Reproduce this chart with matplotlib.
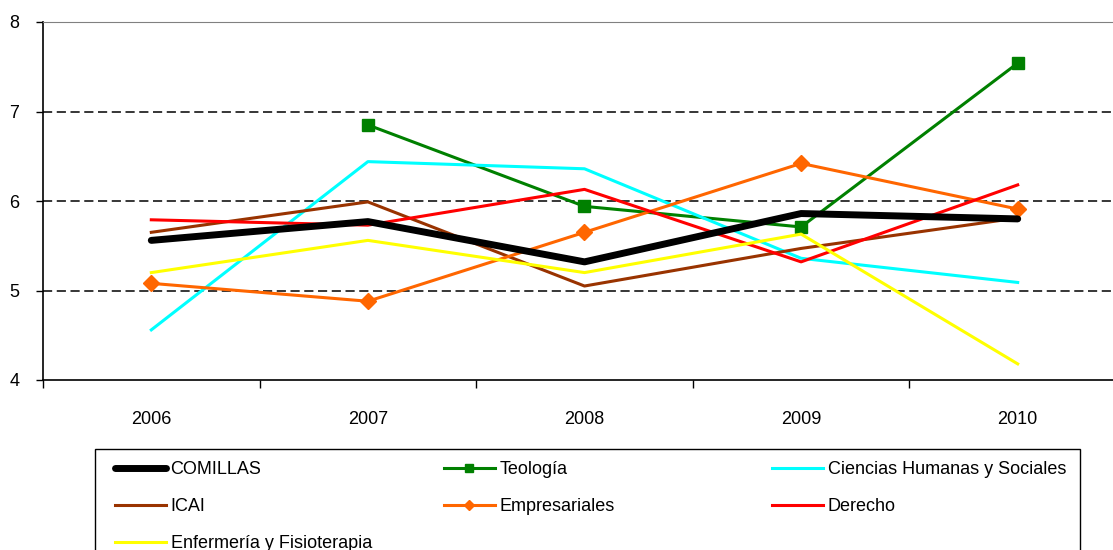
import numpy as np
import matplotlib.pyplot as plt
from matplotlib.patches import Rectangle

plt.rcParams['font.family'] = ['Liberation Sans', 'DejaVu Sans']

years = ['2006', '2007', '2008', '2009', '2010']

comillas = [5.56, 5.77, 5.32, 5.86, 5.80]
teologia = [np.nan, 6.85, 5.94, 5.71, 7.54]
ciencias = [4.56, 6.44, 6.36, 5.36, 5.09]
icai = [5.65, 5.99, 5.05, 5.47, 5.81]
empresariales = [5.08, 4.88, 5.65, 6.42, 5.91]
derecho = [5.79, 5.73, 6.13, 5.32, 6.18]
enfermeria = [5.20, 5.56, 5.20, 5.63, 4.18]

fig = plt.figure(figsize=(11.13, 5.5), dpi=100)
ax = fig.add_axes([43/1113, 170/550, 1083/1113, 358/550])

x = np.arange(len(years))
h_com, = ax.plot(x, comillas, color='black', lw=5, solid_capstyle='round', label='COMILLAS', zorder=3)
h_teo, = ax.plot(x, teologia, color='#008000', lw=2.2, marker='s', markersize=8.5, label='Teología')
h_cie, = ax.plot(x, ciencias, color='#00FFFF', lw=2.2, label='Ciencias Humanas y Sociales')
h_ica, = ax.plot(x, icai, color='#993300', lw=2.2, label='ICAI')
h_emp, = ax.plot(x, empresariales, color='#FF6600', lw=2.2, marker='D', markersize=8, label='Empresariales')
h_der, = ax.plot(x, derecho, color='#FF0000', lw=2.2, label='Derecho')
h_enf, = ax.plot(x, enfermeria, color='#FFFF00', lw=2.2, label='Enfermería y Fisioterapia')

ax.set_xlim(-0.5, 4.5)
ax.set_ylim(4, 8)
ax.set_yticks([4, 5, 6, 7, 8])
for v in [5, 6, 7]:
    ax.axhline(v, color='black', lw=1.1, ls=(0, (6, 3)), zorder=1)

ax.set_xticks(x)
ax.set_xticklabels(years)
ax.set_xticks(np.arange(-0.5, 5, 1), minor=True)
ax.tick_params(axis='x', which='major', length=0, pad=22, labelsize=13)
ax.tick_params(axis='x', which='minor', length=6, width=1, direction='out')
ax.tick_params(axis='y', length=5, width=1, direction='out', pad=12, labelsize=13)

ax.spines['top'].set_color('#808080')
ax.spines['right'].set_visible(False)
ax.spines['left'].set_linewidth(1.2)
ax.spines['bottom'].set_linewidth(1.2)

# legend: three fixed-width columns inside one frame
fig.patches.append(Rectangle((95/1113, -0.1), 985/1113, 101/550 + 0.1,
                             transform=fig.transFigure, fill=False,
                             edgecolor='black', lw=1.0))
columns = [([h_com, h_ica, h_enf], 115), ([h_teo, h_emp], 444), ([h_cie, h_der], 772)]
for handles, xpix in columns:
    fig.legend(handles=handles, loc='upper left',
               bbox_to_anchor=(xpix/1113, 1 - 461.5/550),
               fontsize=13, frameon=False, handlelength=2.8,
               handletextpad=0.28, labelspacing=1.09,
               borderpad=0, borderaxespad=0, markerscale=0.65)

fig.savefig('out.png', dpi=100)
